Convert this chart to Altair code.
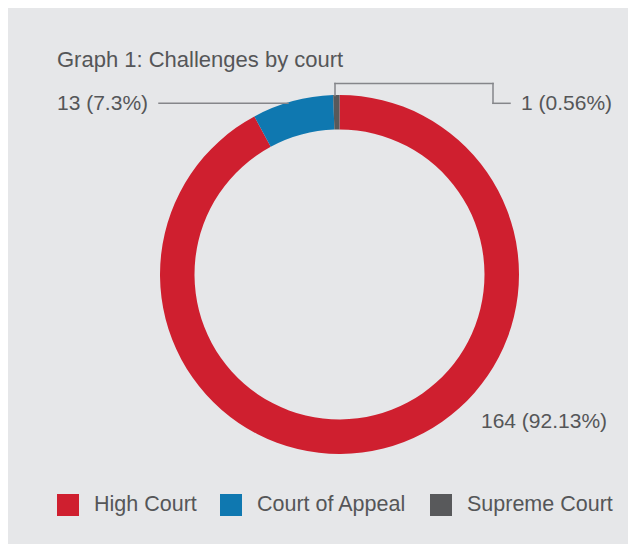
import altair as alt
import pandas as pd

# ---- data ----
courts = ["High Court", "Court of Appeal", "Supreme Court"]
counts = [164, 13, 1]
percents = ["92.13", "7.3", "0.56"]
colors = ["#cf1f2f", "#0f78b0", "#58595b"]

TEXT = "#555658"
LINE = "#85868a"
BG = "#e6e7e9"
FONT = "Liberation Sans"

df = pd.DataFrame({
    "court": courts,
    "count": counts,
    "order": list(range(len(courts))),
    "label": [f"{c} ({p}%)" for c, p in zip(counts, percents)],
})

base = alt.Chart(df)

arc = base.mark_arc(outerRadius=179.5, innerRadius=145).encode(
    theta=alt.Theta("count:Q", stack=True),
    order=alt.Order("order:Q"),
    color=alt.Color(
        "court:N",
        sort=courts,
        scale=alt.Scale(domain=courts, range=colors),
        legend=alt.Legend(
            title=None,
            orient="none",
            direction="horizontal",
            legendX=6,
            legendY=486,
            symbolType="square",
            symbolSize=484,
            symbolStrokeWidth=0,
            symbolOpacity=1,
            labelFont=FONT,
            labelFontSize=21.5,
            labelColor=TEXT,
            labelOffset=15,
            columnPadding=23,
        ),
    ),
)


def label_layer(court, x, y):
    return base.transform_filter(alt.datum.court == court).mark_text(
        align="left", baseline="alphabetic", font=FONT, fontSize=21, color=TEXT
    ).encode(x=alt.value(x), y=alt.value(y), text="label:N")


labels = [
    label_layer("Court of Appeal", 6, 102),
    label_layer("Supreme Court", 470, 102),
    label_layer("High Court", 430, 420),
]


def rule(court, x, x2, y, y2):
    return base.transform_filter(alt.datum.court == court).mark_rule(
        color=LINE, strokeWidth=1.5, strokeCap="square"
    ).encode(x=alt.value(x), x2=alt.value(x2), y=alt.value(y), y2=alt.value(y2))


leaders = [
    rule("Court of Appeal", 108, 237, 95.3, 95.3),
    rule("Supreme Court", 284, 284, 75.5, 87.5),
    rule("Supreme Court", 284, 442, 75.5, 75.5),
    rule("Supreme Court", 442, 442, 75.5, 95.3),
    rule("Supreme Court", 442, 459, 95.3, 95.3),
]

chart = alt.layer(arc, *leaders, *labels).properties(
    width=577,
    height=533,
    padding={"left": 43, "top": 0, "right": 0, "bottom": 3},
    autosize=alt.AutoSizeParams(type="none"),
    background=BG,
    title=alt.TitleParams(
        "Graph 1: Challenges by court",
        anchor="start",
        frame="group",
        orient="top",
        offset=0,
        baseline="alphabetic",
        dx=6,
        dy=81,
        font=FONT,
        fontSize=22,
        fontWeight="normal",
        color=TEXT,
    ),
).configure_view(strokeWidth=0)

chart.save("out.html", embed_options={"renderer": "svg", "actions": False})
